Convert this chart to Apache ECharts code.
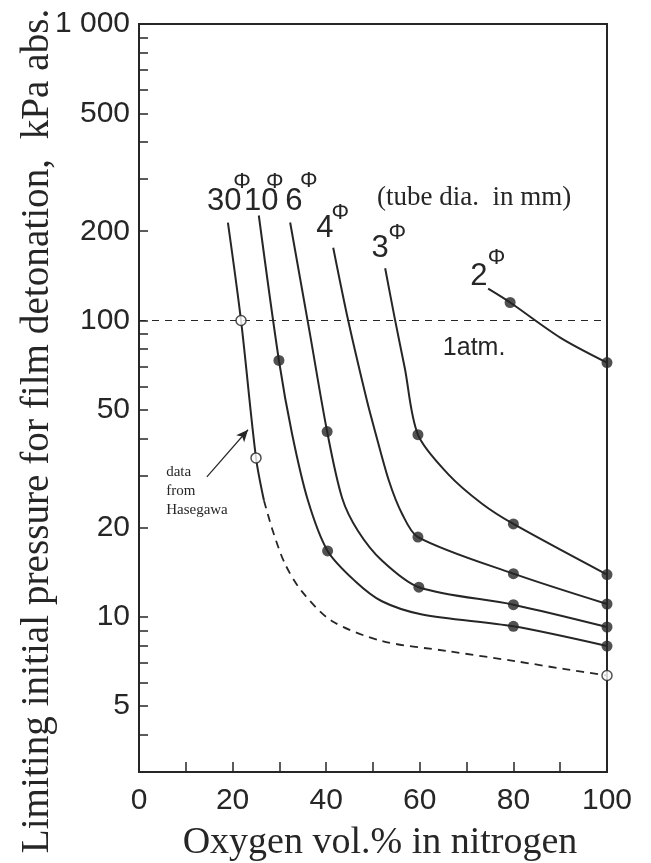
<!DOCTYPE html>
<html><head><meta charset="utf-8">
<script src="https://cdn.jsdelivr.net/npm/echarts@6/dist/echarts.min.js"></script>
<style>html,body{margin:0;padding:0;background:#fff}#c{width:651px;height:863px}</style>
</head><body><div id="c"></div>
<script>
// ---- data ----
const xLabelValues = [0, 20, 40, 60, 80, 100];
const xTickValues = [10, 20, 30, 40, 50, 60, 70, 80, 90];
const yLabelValues = [5, 10, 20, 50, 100, 200, 500, 1000];
const yTickValues = [4,5,6,7,8,9,10,20,30,40,50,60,70,80,90,100,200,300,400,500,600,700,800,900,1000];

// curves (Oxygen vol.%, limiting pressure kPa)
const c30Solid = [[19.0,214],[21.8,100],[25.0,34.4],[26.7,24.7]];
const c30Dashed = [[26.7,24.7],[28.6,19.5],[31.2,15.1],[34.8,12.2],[41.2,9.7],[51.9,8.3],[66,7.67],[80.3,7.1],[91,6.67],[100,6.35]];
const c10 = [[25.6,226],[29.9,73.3],[32.7,41.5],[36.1,24.7],[40.3,16.7],[46.2,13.2],[51.9,11.3],[60.5,10.2],[80,9.3],[100,7.98]];
const c6 = [[32.3,214],[36.5,90.6],[40.2,42.2],[43.4,25.2],[46.8,19.5],[51.9,15.5],[59.8,12.6],[80,11.0],[100,9.25]];
const c4 = [[41.5,176],[44.7,100],[48.7,53.7],[50.4,42.5],[53.4,28.8],[56.2,22.3],[59.6,18.6],[80,14.0],[100,11.06]];
const c3 = [[52.6,150],[54.7,100.7],[56.8,69],[59.6,41.2],[66,30.4],[73.3,24.1],[80,20.6],[100,13.9]];
const c2 = [[74.6,128],[79.3,115],[90,87.6],[100,72.1]];

// measured points
const filledPts = [[29.9,73.3],[40.3,16.7],[80,9.3],[100,7.98],
  [40.2,42.2],[59.8,12.6],[80,11.0],[100,9.25],
  [59.6,18.6],[80,14.0],[100,11.06],
  [59.6,41.2],[80,20.6],[100,13.9],
  [79.3,115],[100,72.1]];
const openPts = [[21.8,100],[25.0,34.4],[100,6.35]];

// 1 atm reference
const atmLine = 100;

// annotations (data coordinates)
const curveLabels = [
  {num:'30', at:[18.2,252], phi:[22.0,294]},
  {num:'10', at:[26.1,252], phi:[29.0,294]},
  {num:'6',  at:[33.1,252], phi:[36.3,296]},
  {num:'4',  at:[39.7,205], phi:[43.0,230]},
  {num:'3',  at:[51.5,175], phi:[55.2,198]},
  {num:'2',  at:[72.6,141], phi:[76.4,162]}
];
const noteTube = {text:'(tube dia.  in mm)', at:[71.6,260]};
const noteAtm = {text:'1atm.', at:[71.6,81]};
const noteHase = {text:'data\nfrom\nHasegawa', at:[5.8,33.1]};
const arrowFrom = [14.5,29.7], arrowTo = [23.3,42.8];

const INK = '#262626';
const SANS = "'Liberation Sans', Arial, sans-serif";
const SERIF = "'Liberation Serif', 'Times New Roman', serif";

const chart = echarts.init(document.getElementById('c'), null, {renderer:'canvas'});
function line(data, dashed) {
  return {type:'line', data:data, smooth:0.3, showSymbol:false, symbol:'none',
    lineStyle:{color:INK, width:dashed?1.8:2, type:dashed?[8,6]:'solid'}, z:3, silent:true};
}
chart.setOption({
  animation:false,
  grid:{left:139, right:44, top:24, bottom:91, containLabel:false, outerBoundsMode:'none',
    show:true, borderColor:INK, borderWidth:2},
  xAxis:{type:'value', min:0, max:100,
    name:'Oxygen vol.% in nitrogen', nameLocation:'middle', nameGap:52, nameMoveOverlap:false,
    nameTextStyle:{fontFamily:SERIF, fontSize:38, color:INK, padding:[0,0,0,14]},
    axisLine:{show:true, lineStyle:{color:INK, width:2}},
    axisTick:{show:true, inside:true, length:10, customValues:xTickValues, lineStyle:{color:INK, width:1.5}},
    axisLabel:{customValues:xLabelValues, fontFamily:SANS, fontSize:30, color:INK, margin:14},
    splitLine:{show:false}},
  yAxis:{type:'log', logBase:10, min:3, max:1000,
    name:'Limiting initial pressure for film detonation,  kPa abs.', nameLocation:'middle', nameRotate:90, nameGap:82,
    nameMoveOverlap:false,
    nameTextStyle:{fontFamily:SERIF, fontSize:39.2, color:INK, padding:[0,66,0,0]},
    axisLine:{show:true, lineStyle:{color:INK, width:2}},
    axisTick:{show:true, inside:true, length:9, customValues:yTickValues, lineStyle:{color:INK, width:1.5}},
    axisLabel:{customValues:yLabelValues, fontFamily:SANS, fontSize:30, color:INK, margin:9,
      formatter:v => v===1000 ? '1 000' : String(v)},
    splitLine:{show:false}, minorTick:{show:false}},
  series:[
    Object.assign(line(c30Solid,false), {markLine:{silent:true, symbol:['none','none'], label:{show:false},
      lineStyle:{color:INK, width:1.2, type:[7,6]},
      data:[[{coord:[0,atmLine]},{coord:[100,atmLine]}]]}}),
    line(c30Dashed,true),
    Object.assign(line(c10,false), {markLine:{silent:true, symbol:['none','arrow'], symbolSize:[8,12], label:{show:false},
      lineStyle:{color:INK, width:1.2, type:'solid'},
      data:[[{coord:arrowFrom},{coord:arrowTo}]]}}),
    line(c6,false), line(c4,false), line(c3,false), line(c2,false),
    {type:'scatter', data:filledPts, symbol:'circle', symbolSize:11, itemStyle:{color:INK}, z:5, silent:true},
    {type:'scatter', data:openPts, symbol:'circle', symbolSize:10, itemStyle:{color:'#fff', borderColor:INK, borderWidth:1.5}, z:6, silent:true}
  ]
});

const px = p => chart.convertToPixel({gridIndex:0}, p);
const g = [];
curveLabels.forEach(c => {
  const a = px(c.at), b = px(c.phi);
  g.push({type:'text', x:a[0], y:a[1], style:{text:c.num, fontFamily:SANS, fontSize:31, fill:INK, align:'center', verticalAlign:'middle'}});
  g.push({type:'text', x:b[0], y:b[1], style:{text:'Φ', fontFamily:SANS, fontSize:22, fill:INK, align:'center', verticalAlign:'middle'}});
});
let t = px(noteTube.at);
g.push({type:'text', x:t[0], y:t[1], style:{text:noteTube.text, fontFamily:SERIF, fontSize:27, fill:INK, align:'center', verticalAlign:'middle'}});
t = px(noteAtm.at);
g.push({type:'text', x:t[0], y:t[1], style:{text:noteAtm.text, fontFamily:SANS, fontSize:25, fill:INK, align:'center', verticalAlign:'middle'}});
t = px(noteHase.at);
g.push({type:'text', x:t[0], y:t[1], style:{text:noteHase.text, fontFamily:SERIF, fontSize:15, lineHeight:19, fill:INK, align:'left', verticalAlign:'top'}});
chart.setOption({graphic:g});
</script></body></html>
